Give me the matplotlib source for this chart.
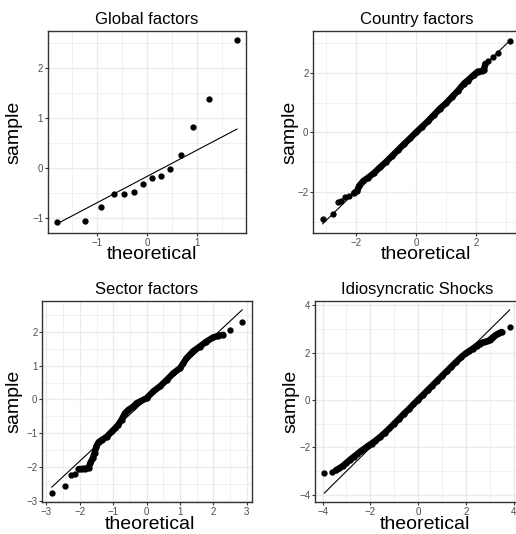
import matplotlib
matplotlib.use("Agg")
import matplotlib.pyplot as plt
from matplotlib.ticker import MultipleLocator
import numpy as np

plt.rcParams['font.family'] = ['Liberation Sans', 'DejaVu Sans']

# ---------------- data ----------------
titles = ["Global factors", "Country factors", "Sector factors", "Idiosyncratic Shocks"]

# Global factors: 14 points
global_theo = [-1.80, -1.24, -0.92, -0.67, -0.46, -0.27, -0.09,
               0.09, 0.27, 0.46, 0.67, 0.92, 1.24, 1.80]
global_sample = [-1.07, -1.05, -0.78, -0.52, -0.52, -0.47, -0.31,
                 -0.20, -0.15, -0.02, 0.26, 0.82, 1.39, 2.56]

# Country factors: isolated tail points + dense run
country_tail_theo = [-3.11, -2.78, -2.61, -2.50, -2.37, -2.22, 2.39, 2.58, 2.74, 3.13]
country_tail_sample = [-2.89, -2.73, -2.33, -2.29, -2.18, -2.12, 2.38, 2.54, 2.66, 3.06]
country_run_theo = [-2.06, -1.96, -1.90, -1.75, -1.60, -1.40, -1.20, -1.00, -0.80, -0.60,
                    -0.40, -0.20, 0.00, 0.20, 0.40, 0.60, 0.80, 1.00, 1.20, 1.40,
                    1.60, 1.72, 1.94, 2.06, 2.20, 2.26, 2.31]
country_run_sample = [-2.03, -1.96, -1.80, -1.62, -1.52, -1.36, -1.17, -0.99, -0.79, -0.59,
                      -0.39, -0.20, 0.00, 0.19, 0.38, 0.59, 0.80, 0.98, 1.19, 1.40,
                      1.64, 1.74, 1.94, 2.04, 2.06, 2.08, 2.30]

# Sector factors
sector_tail_theo = [-2.84, -2.46, -2.27, -2.14, 2.49, 2.86]
sector_tail_sample = [-2.78, -2.58, -2.24, -2.21, 2.05, 2.29]
sector_run_theo = [-2.04, -1.94, -1.84, -1.74, -1.69, -1.61, -1.56, -1.51, -1.44, -1.34,
                   -1.19, -1.04, -0.94, -0.85, -0.75, -0.65, -0.55, -0.40, -0.30, -0.20,
                   0.00, 0.20, 0.40, 0.60, 0.80, 1.00, 1.10, 1.19, 1.39, 1.59,
                   1.79, 1.99, 2.14, 2.29]
sector_run_sample = [-2.07, -2.06, -2.05, -2.04, -1.89, -1.74, -1.59, -1.40, -1.27, -1.20,
                     -1.10, -0.95, -0.85, -0.75, -0.60, -0.41, -0.31, -0.21, -0.11, -0.06,
                     0.04, 0.24, 0.39, 0.58, 0.78, 0.93, 1.08, 1.22, 1.43, 1.57,
                     1.72, 1.84, 1.89, 1.92]

# Idiosyncratic shocks
idio_tail_theo = [-3.93, -3.60, 3.84]
idio_tail_sample = [-3.09, -3.03, 3.08]
idio_run_theo = [-3.45, -3.30, -3.15, -3.00, -2.85, -2.70, -2.55, -2.40, -2.25, -2.10,
                 -1.95, -1.80, -1.60, -1.40, -1.20, -1.00, -0.80, -0.60, -0.40, -0.20,
                 0.00, 0.20, 0.40, 0.60, 0.80, 1.00, 1.20, 1.40, 1.60, 1.80,
                 2.00, 2.15, 2.30, 2.45, 2.60, 2.75, 2.90, 3.00, 3.10, 3.20,
                 3.30, 3.40, 3.50]
idio_run_sample = [-2.97, -2.88, -2.78, -2.65, -2.52, -2.40, -2.28, -2.16, -2.05, -1.94,
                   -1.84, -1.73, -1.57, -1.39, -1.20, -1.00, -0.80, -0.59, -0.40, -0.19,
                   0.01, 0.21, 0.41, 0.61, 0.81, 1.01, 1.21, 1.41, 1.61, 1.80,
                   1.97, 2.07, 2.17, 2.28, 2.38, 2.44, 2.48, 2.52, 2.62, 2.70,
                   2.77, 2.82, 2.87]

# reference (qq) lines: intercept, slope
country_line = (0.0, 0.985)
sector_line = (0.02, 0.923)
idio_line = (-0.02, 0.995)

major_steps = [1, 2, 1, 2]

# ---------------- figure ----------------
W, H = 516, 534
fig = plt.figure(figsize=(W / 100, H / 100), dpi=100)

# panel boxes in pixels: left, right, top, bottom
boxes = [(48, 246, 31, 233),
         (313.3, 519.3, 31.3, 233),
         (42.3, 251.7, 300.7, 502.3),
         (315, 519, 300.7, 502.3)]
# axis-title centres (pixels): y-label x centre, x-label x centre
ylabel_cx = [14, 290, 13.5, 290.5]
xlabel_cx = [152, 425.5, 150, 425]

axes = [fig.add_axes([l / W, 1 - b / H, (r - l) / W, (b - t) / H]) for l, r, t, b in boxes]

ms = 3.5
run_lw = 4.6

def qq_line(ax, xs, line):
    a, b = line
    x0, x1 = min(xs), max(xs)
    ax.plot([x0, x1], [a + b * x0, a + b * x1], color='black', lw=0.8, zorder=2)

# Global
ax = axes[0]
gx = np.array(global_theo)
gy = np.array(global_sample)
q_s = np.quantile(gy, [0.25, 0.75])
q_t = np.array([-0.6744898, 0.6744898])
slope = (q_s[1] - q_s[0]) / (q_t[1] - q_t[0])
inter = q_s[0] - slope * q_t[0]
ax.plot([gx.min(), gx.max()], [inter + slope * gx.min(), inter + slope * gx.max()],
        color='black', lw=0.8, zorder=2)
ax.plot(gx, gy, 'o', color='black', ms=ms, zorder=3)

panels = [
    (axes[1], country_tail_theo, country_tail_sample, country_run_theo, country_run_sample, country_line),
    (axes[2], sector_tail_theo, sector_tail_sample, sector_run_theo, sector_run_sample, sector_line),
    (axes[3], idio_tail_theo, idio_tail_sample, idio_run_theo, idio_run_sample, idio_line),
]
for ax, tx, ty, rx, ry, line in panels:
    allx = list(tx) + list(rx)
    qq_line(ax, allx, line)
    ax.plot(rx, ry, '-', color='black', lw=run_lw, solid_capstyle='round',
            solid_joinstyle='round', zorder=3)
    ax.plot(rx, ry, 'o', color='black', ms=ms, zorder=3)
    ax.plot(tx, ty, 'o', color='black', ms=ms, zorder=3)

for ax, title, step, bx, ycx, xcx in zip(axes, titles, major_steps, boxes, ylabel_cx, xlabel_cx):
    l, r, t, b = bx
    ax.margins(0.05)
    ax.set_facecolor('white')
    ax.xaxis.set_major_locator(MultipleLocator(step))
    ax.yaxis.set_major_locator(MultipleLocator(step))
    ax.xaxis.set_minor_locator(MultipleLocator(step / 2))
    ax.yaxis.set_minor_locator(MultipleLocator(step / 2))
    ax.grid(which='major', color='#EBEBEB', lw=1.0, zorder=0)
    ax.grid(which='minor', color='#EBEBEB', lw=0.5, zorder=0)
    ax.set_axisbelow(True)
    for s in ax.spines.values():
        s.set_color('#333333')
        s.set_linewidth(1.0)
    ax.tick_params(which='major', length=2.5, width=0.8, color='#333333',
                   labelcolor='#4D4D4D', labelsize=7, pad=1.0)
    ax.tick_params(which='minor', length=0)
    ax.set_title(title, fontsize=12, pad=5)
    ax.set_xlabel('theoretical', fontsize=14, labelpad=-1.0)
    ax.xaxis.label.set_x((xcx - l) / (r - l))
    ax.set_ylabel('sample', fontsize=14)
    ax.yaxis.set_label_coords((ycx - l) / (r - l), 0.5)
    ax.yaxis.label.set_verticalalignment('center')

fig.savefig('out.png', dpi=100)
